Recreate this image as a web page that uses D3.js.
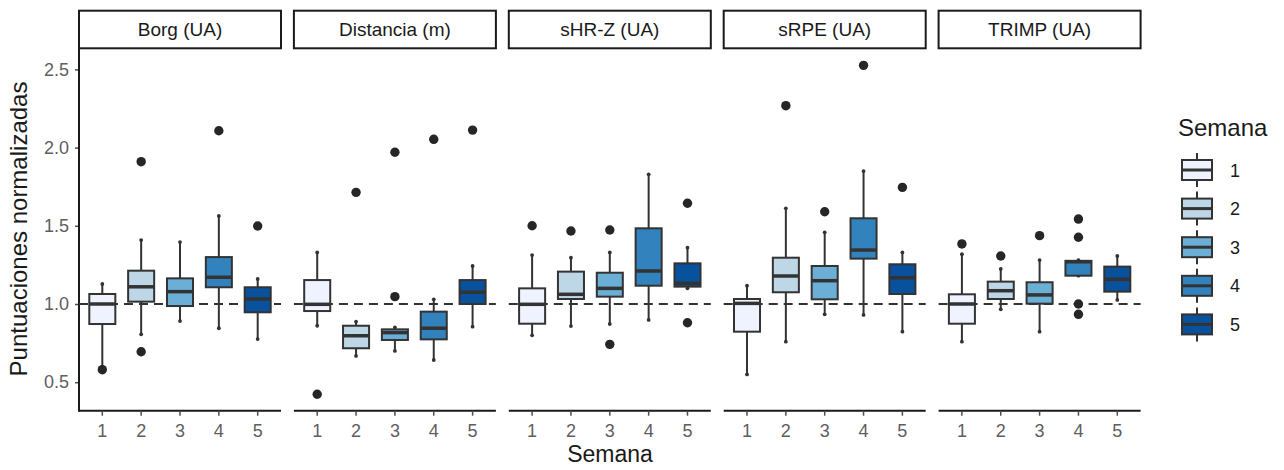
<!DOCTYPE html>
<html>
<head>
<meta charset="utf-8">
<script src="https://cdn.jsdelivr.net/npm/d3@7"></script>
<style>
  body { margin: 0; background: #fff; }
  svg { font-family: "Liberation Sans", Arial, sans-serif; }
</style>
</head>
<body>
<div id="chart"></div>
<script>
// ---- data ----
const metrics = ["Borg (UA)", "Distancia (m)", "sHR-Z (UA)", "sRPE (UA)", "TRIMP (UA)"];
const weeks = ["1", "2", "3", "4", "5"];
const weekColors = ["#eff3ff", "#bdd7e7", "#6baed6", "#3182bd", "#08519c"];
const yTicks = [0.5, 1.0, 1.5, 2.0, 2.5];

// one row per metric, one value per week
const whiskerLow = [
  [0.60, 0.806, 0.891, 0.845, 0.776],
  [0.861, 0.668, 0.70, 0.642, 0.855],
  [0.80, 0.859, 0.872, 0.898, 1.10],
  [0.55, 0.759, 0.934, 0.93, 0.823],
  [0.759, 0.966, 0.823, 1.181, 1.026]
];
const q1 = [
  [0.872, 1.015, 0.987, 1.107, 0.947],
  [0.955, 0.717, 0.77, 0.774, 1.0],
  [0.874, 1.032, 1.047, 1.117, 1.111],
  [0.823, 1.075, 1.03, 1.29, 1.064],
  [0.874, 1.032, 1.002, 1.181, 1.079]
];
const median = [
  [1.0, 1.11, 1.079, 1.171, 1.032],
  [0.998, 0.797, 0.817, 0.845, 1.075],
  [0.998, 1.062, 1.10, 1.211, 1.132],
  [1.004, 1.179, 1.149, 1.345, 1.168],
  [1.0, 1.085, 1.058, 1.27, 1.158]
];
const q3 = [
  [1.064, 1.213, 1.164, 1.30, 1.107],
  [1.153, 0.861, 0.838, 0.951, 1.153],
  [1.10, 1.207, 1.20, 1.484, 1.26],
  [1.032, 1.296, 1.243, 1.548, 1.254],
  [1.062, 1.143, 1.139, 1.276, 1.239]
];
const whiskerHigh = [
  [1.128, 1.409, 1.396, 1.563, 1.16],
  [1.33, 0.887, 0.851, 1.03, 1.243],
  [1.313, 1.296, 1.33, 1.829, 1.36],
  [1.117, 1.612, 1.458, 1.85, 1.33],
  [1.318, 1.224, 1.281, 1.281, 1.307]
];
const outliers = [
  [[0.58], [1.91, 0.695], [], [2.108], [1.499]],
  [[0.423], [1.714], [1.97, 1.047], [2.053], [2.112]],
  [[1.50], [1.467], [1.473, 0.742], [], [1.644, 0.88]],
  [[], [2.268], [1.59], [2.526], [1.746]],
  [[1.384], [1.307], [1.437], [1.543, 1.427, 1.0, 0.934], []]
];

// ---- layout ----
const W = 1284, H = 470;
const left = 79, panelW = 202, gap = 12.9;
const stripTop = 10.7, stripBottom = 48.3, plotBottom = 410.7;
const ink = "#333333";

const svg = d3.select("#chart").append("svg")
  .attr("width", W).attr("height", H);

const y = d3.scaleLinear().domain([0.5, 2.5]).range([382.2, 69.4]);

const panelX = d3.scaleBand().domain(metrics)
  .range([left, left + 5 * panelW + 4 * gap]).paddingInner(gap / (panelW + gap));

// y axis (only on first panel)
const yAxis = svg.append("g")
  .attr("transform", "translate(" + left + ",0)")
  .call(d3.axisLeft(y).tickValues(yTicks).tickFormat(d3.format(".1f")).tickSize(4).tickPadding(6));
yAxis.select(".domain").remove();
yAxis.append("line").attr("x1", 0).attr("x2", 0).attr("y1", stripBottom).attr("y2", plotBottom + 1)
  .attr("stroke", "#1a1a1a").attr("stroke-width", 2);
yAxis.selectAll(".tick line").attr("stroke", "#4d4d4d").attr("stroke-width", 1.5);
yAxis.selectAll(".tick text").attr("fill", "#5e5e5e").style("font-size", "18px")
  .style("font-family", "'Liberation Sans', Arial, sans-serif");

metrics.forEach(function(m, mi) {
  const x0 = panelX(m);
  const g = svg.append("g").attr("transform", "translate(" + x0 + ",0)");

  // ggplot-like discrete expansion: 0.6 step on each side
  const x = d3.scalePoint().domain(weeks).range([0, panelW]).padding(0.6);
  const boxW = x.step() * 0.67;

  // strip
  g.append("rect").attr("x", 0).attr("y", stripTop).attr("width", panelW)
    .attr("height", stripBottom - stripTop)
    .attr("fill", "#fff").attr("stroke", "#1a1a1a").attr("stroke-width", 2);
  g.append("text").attr("x", panelW / 2).attr("y", 36)
    .attr("text-anchor", "middle").attr("fill", "#1a1a1a")
    .style("font-size", "19px").text(m);

  // reference line
  g.append("line").attr("x1", 0).attr("x2", panelW).attr("y1", y(1)).attr("y2", y(1))
    .attr("stroke", ink).attr("stroke-width", 2).attr("stroke-dasharray", "9,6");

  // x axis
  g.append("line").attr("x1", 0).attr("x2", panelW).attr("y1", plotBottom).attr("y2", plotBottom)
    .attr("stroke", "#1a1a1a").attr("stroke-width", 2);
  weeks.forEach(function(w) {
    g.append("line").attr("x1", x(w)).attr("x2", x(w))
      .attr("y1", plotBottom).attr("y2", plotBottom + 5)
      .attr("stroke", "#4d4d4d").attr("stroke-width", 1.5);
    g.append("text").attr("x", x(w)).attr("y", 437)
      .attr("text-anchor", "middle").attr("fill", "#5e5e5e")
      .style("font-size", "18px").text(w);
  });

  // boxes
  weeks.forEach(function(w, wi) {
    const c = x(w);
    const bg = g.append("g");
    bg.append("line").attr("x1", c).attr("x2", c)
      .attr("y1", y(whiskerLow[mi][wi])).attr("y2", y(whiskerHigh[mi][wi]))
      .attr("stroke", ink).attr("stroke-width", 2);
    [whiskerLow[mi][wi], whiskerHigh[mi][wi]].forEach(function(v) {
      bg.append("circle").attr("cx", c).attr("cy", y(v)).attr("r", 1.9).attr("fill", ink);
    });
    bg.append("rect").attr("x", c - boxW / 2).attr("width", boxW)
      .attr("y", y(q3[mi][wi])).attr("height", Math.max(0.5, y(q1[mi][wi]) - y(q3[mi][wi])))
      .attr("fill", weekColors[wi]).attr("stroke", ink).attr("stroke-width", 2);
    bg.append("line").attr("x1", c - boxW / 2).attr("x2", c + boxW / 2)
      .attr("y1", y(median[mi][wi])).attr("y2", y(median[mi][wi]))
      .attr("stroke", ink).attr("stroke-width", 3.5);
    outliers[mi][wi].forEach(function(v) {
      bg.append("circle").attr("cx", c).attr("cy", y(v)).attr("r", 4.7).attr("fill", "#262626");
    });
  });
});

// axis titles
svg.append("text").attr("x", 610).attr("y", 462).attr("text-anchor", "middle")
  .attr("fill", "#1a1a1a").style("font-size", "23px").text("Semana");
svg.append("text").attr("transform", "translate(27,229) rotate(-90)")
  .attr("text-anchor", "middle").attr("fill", "#1a1a1a")
  .style("font-size", "24px").text("Puntuaciones normalizadas");

// legend
const lg = svg.append("g");
lg.append("text").attr("x", 1178).attr("y", 136).attr("fill", "#1a1a1a")
  .style("font-size", "24px").text("Semana");
weeks.forEach(function(w, i) {
  const cy = 170 + i * 38.6, kx = 1197;
  lg.append("line").attr("x1", kx).attr("x2", kx).attr("y1", cy - 17).attr("y2", cy + 17)
    .attr("stroke", ink).attr("stroke-width", 2);
  lg.append("rect").attr("x", kx - 15).attr("y", cy - 10).attr("width", 30).attr("height", 20)
    .attr("fill", weekColors[i]).attr("stroke", ink).attr("stroke-width", 2);
  lg.append("line").attr("x1", kx - 15).attr("x2", kx + 15).attr("y1", cy).attr("y2", cy)
    .attr("stroke", ink).attr("stroke-width", 3);
  lg.append("text").attr("x", 1230).attr("y", cy + 6.5).attr("fill", "#1a1a1a")
    .style("font-size", "18px").text(w);
});
</script>
</body>
</html>
